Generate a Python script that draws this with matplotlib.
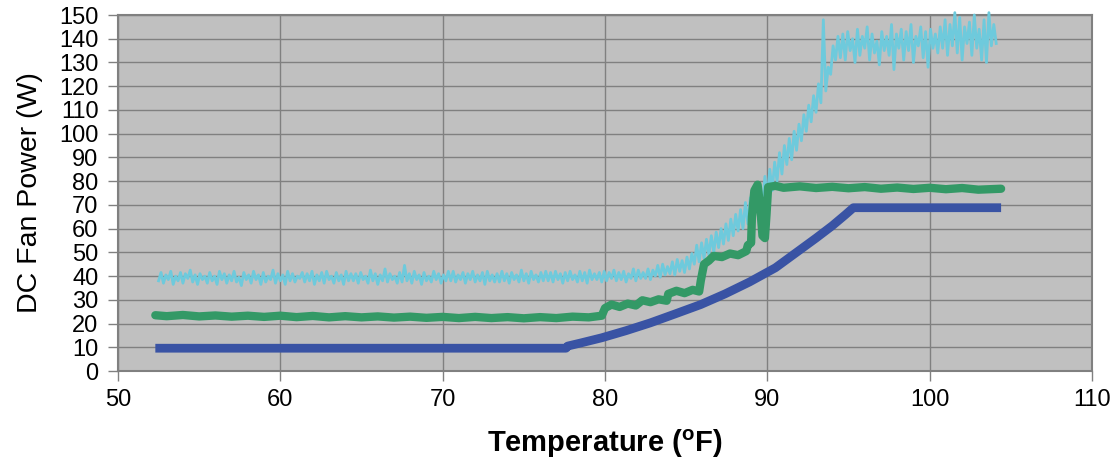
import numpy as np
import matplotlib.pyplot as plt

plt.rcParams['font.family'] = ['Liberation Sans', 'DejaVu Sans']
plt.rcParams['mathtext.fontset'] = 'custom'
plt.rcParams['mathtext.rm'] = 'Liberation Sans'
plt.rcParams['mathtext.bf'] = 'Liberation Sans:bold'

# cyan trace, one reading every 0.15 F starting at 52.5 F (20 per row = 3 F)
cyan_start = 52.5
cyan_step = 0.15
cyan_power = [
    38, 41.5, 37, 40.5, 38.5, 42, 36.5, 40, 38, 41.5, 37, 41, 39, 42.5, 37.5, 40.5, 36.5, 41, 38.5, 40,
    37, 41.5, 38, 40, 36.5, 42, 38.5, 41, 37, 40.5, 38, 42, 37.5, 39.5, 36, 41.5, 38.5, 40.5, 37, 42,
    38.5, 40.5, 36.5, 41.5, 37.5, 40, 38.5, 42.5, 37, 41, 38, 40.5, 36.5, 42, 38, 41, 37.5, 40, 39, 41.5,
    37.5, 41, 38, 42, 36.5, 40.5, 38, 41.5, 37, 42, 38.5, 40, 37, 41.5, 38, 40.5, 36.5, 42, 38, 41,
    38, 41, 37, 41.5, 38.5, 40, 37, 42.5, 38, 41, 36.5, 40.5, 38, 43, 37.5, 41, 38.5, 40, 37, 41.5,
    37.5, 44.5, 38, 41, 37, 42, 38.5, 40.5, 36.5, 41.5, 38, 40, 37.5, 42, 38.5, 41, 37, 40.5, 38, 42,
    38, 42, 37.5, 40.5, 38.5, 41.5, 37, 41, 38.5, 42, 37.5, 40.5, 38, 41.5, 36.5, 42, 38, 40.5, 37.5, 41,
    37.5, 42, 38, 41, 37, 41.5, 38.5, 40.5, 37.5, 42.5, 38, 41, 37, 42, 38.5, 40.5, 37.5, 41.5, 38, 42,
    38, 41.5, 37.5, 42, 38.5, 41, 37, 41.5, 38, 42, 38.5, 40.5, 37.5, 42, 38, 41.5, 37, 42.5, 38.5, 41,
    38.5, 41.5, 37.5, 42, 38, 41.5, 39, 42.5, 38, 41.5, 38.5, 42, 37.5, 41, 39, 43, 38, 42.5, 39, 41.5,
    39, 43, 38.5, 42.5, 40, 44.5, 39.5, 45, 40.5, 44, 41, 46, 40.5, 47, 42, 46.5, 41.5, 48, 43, 49.5,
    45, 53, 46, 54, 47.5, 55.5, 49, 57, 50, 58.5, 52, 60, 53.5, 62, 55, 64, 57, 66, 59, 68,
    60, 71, 62, 73, 64, 76, 67, 78, 70, 82, 73, 85, 76, 88, 80, 92, 83, 95, 87, 98,
    89, 101, 93, 104, 97, 108, 101, 112, 105, 116, 109, 121, 113, 148, 118, 128, 125, 137, 131, 141,
    132, 142, 131, 143, 135, 140, 130, 144, 133, 141, 136, 145, 131, 142, 134, 139, 129, 143, 135, 141,
    133, 146, 127, 142, 136, 144, 131, 143, 135, 146, 130, 141, 137, 145, 132, 143, 128, 144, 136, 142,
    134, 145, 136, 148, 133, 146, 137, 151, 134, 149, 131, 145, 138, 147, 133, 150, 136, 144, 131, 148,
    130, 151, 137, 146, 138,
]

green_temp = [52.3, 53.0, 54.0, 55.0, 56.0, 57.0, 58.0, 59.0, 60.0, 61.0,
              62.0, 63.0, 64.0, 65.0, 66.0, 67.0, 68.0, 69.0, 70.0, 71.0,
              72.0, 73.0, 74.0, 75.0, 76.0, 77.0, 78.0, 79.0, 79.8, 80.0,
              80.4, 80.9, 81.4, 81.9, 82.3, 82.8, 83.3, 83.8, 83.9, 84.4,
              84.9, 85.4, 85.8, 85.9, 86.1, 86.4, 86.7, 87.2, 87.7, 88.2,
              88.7, 88.8, 89.0, 89.05, 89.2, 89.4, 89.55, 89.7, 89.85, 89.95,
              90.05, 90.5, 91, 92, 93, 94, 95, 96, 97, 98,
              99, 100, 101, 102, 103, 104.4]
green_power = [23.5, 23.1, 23.6, 23.0, 23.4, 22.9, 23.3, 22.8, 23.3, 22.7,
               23.2, 22.6, 23.1, 22.6, 23.0, 22.5, 22.9, 22.4, 22.8, 22.3,
               22.8, 22.3, 22.7, 22.2, 22.7, 22.3, 22.9, 22.6, 23.3, 26.5,
               28.0, 27.0, 28.4, 27.6, 29.8, 29.0, 30.2, 29.6, 32.5, 33.8,
               32.8, 34.2, 33.5, 38, 45, 46.5, 48.5, 48, 49.5, 48.8,
               50.5, 53, 54, 65, 76, 78.5, 70, 57, 56, 66,
               77.5, 78, 77.2, 77.8, 77.1, 77.6, 77, 77.5, 76.8, 77.3,
               76.7, 77.2, 76.6, 77.1, 76.4, 76.8]

blue_temp = [52.3, 77.6, 77.7, 78.5, 79.8, 81.3, 82.8, 84.3, 85.9, 87.4,
             88.9, 90.5, 92.0, 93.0, 94.0, 94.8, 95.3, 104.4]
blue_power = [9.6, 9.6, 10.5, 11.8, 14.0, 17.0, 20.3, 24.0, 28.0, 32.5,
              37.5, 43.5, 51.0, 56.0, 61.2, 65.8, 68.8, 68.8]

cyan_temp = cyan_start + cyan_step * np.arange(len(cyan_power))

fig = plt.figure(figsize=(11.15, 4.62), dpi=100)
ax = fig.add_axes([118/1115, 1 - 371/462, 974/1115, 356/462])
ax.set_facecolor('#C0C0C0')

ax.plot(cyan_temp, cyan_power, color='#6ECADC', lw=2.0, zorder=3, clip_on=False)
ax.plot(green_temp, green_power, color='#339966', lw=6.0, zorder=4,
        solid_capstyle='round', solid_joinstyle='round')
ax.plot(blue_temp, blue_power, color='#3953A4', lw=6.3, zorder=5,
        solid_capstyle='butt')

ax.set_xlim(50, 110)
ax.set_ylim(0, 150)
ax.set_xticks(np.arange(50, 111, 10))
ax.set_yticks(np.arange(0, 151, 10))
ax.grid(True, color='#808080', lw=1)
ax.set_axisbelow(True)
for s in ax.spines.values():
    s.set_color('#808080')
    s.set_linewidth(1.5)
ax.tick_params(colors='#808080', labelcolor='black', labelsize=17,
               length=7, width=1)
ax.tick_params(axis='y', pad=7)
ax.tick_params(axis='x', pad=6)

ax.set_ylabel('DC Fan Power (W)', fontsize=20.5)
ax.yaxis.set_label_coords(-0.077, 0.5)
ax.set_xlabel(r'Temperature ($\mathbf{^{o}}$F)', fontsize=21, fontweight='bold')
ax.xaxis.set_label_coords(0.5, -0.16)

fig.savefig('out.png', dpi=100)
